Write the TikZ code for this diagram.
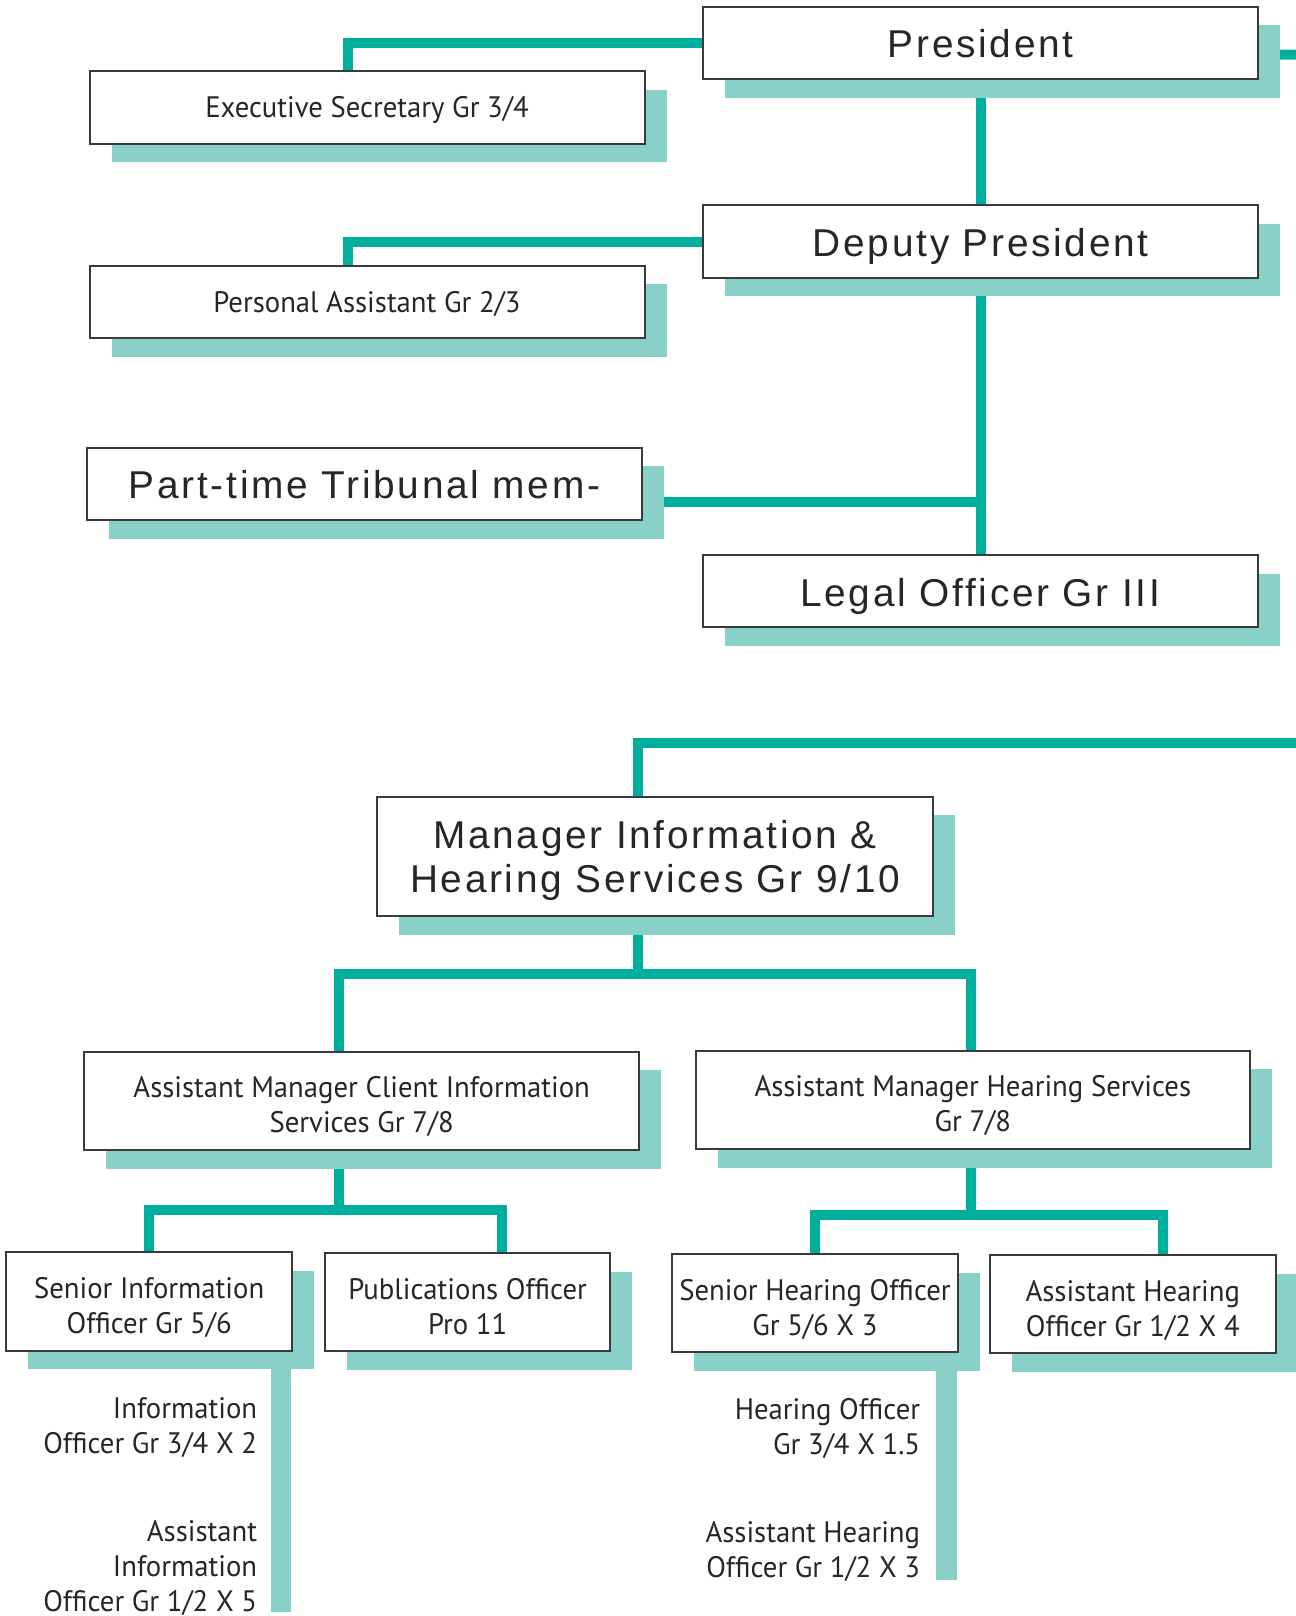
\documentclass[tikz,border=0pt]{standalone}
\usepackage{fontspec}
\setmainfont{PT Sans}
\newfontfamily\postfont[FakeStretch=0.97]{PT Sans}
\newfontfamily\headfont[LetterSpace=7]{Liberation Sans}
\usetikzlibrary{shadows,backgrounds,calc}

\definecolor{linkteal}{HTML}{00AE9D}
\definecolor{shadeteal}{HTML}{89D1C8}
\definecolor{edgegray}{HTML}{3A3A3A}
\definecolor{inkgray}{HTML}{262626}

\tikzset{
	post/.style={draw=edgegray, line width=1pt, fill=white, text=inkgray, align=center, inner sep=0pt,
		drop shadow={shadow xshift=11pt, shadow yshift=-9.25pt, fill=shadeteal, opacity=1}},
	headtext/.style={font=\headfont\fontsize{19.4}{21.65}\selectfont},
	bodytext/.style={font=\postfont\fontsize{14.8}{17.5}\selectfont},
	headline/.style={text height=15pt, text depth=0pt},
	headpair/.style={text depth=0pt},
	bodyline/.style={text height=11pt, text depth=0.5pt},
	bodypair/.style={text height=31.9pt, text depth=0pt},
	widesize/.style={minimum width=277.5pt, minimum height=36.2pt},
	mgrsize/.style={minimum width=277.6pt, minimum height=59.6pt},
	amsize/.style={minimum width=277.3pt, minimum height=49.1pt},
	unitsize/.style={minimum width=142.8pt, minimum height=49.1pt},
	link/.style={draw=linkteal, line width=5pt},
	sidenote/.style={anchor=north east, align=right, inner sep=0pt, text=inkgray, bodytext}
}

\begin{document}
\begin{tikzpicture}[x=0.5pt, y=-0.5pt]
			%%%%% START %%%%%
			\useasboundingbox (0, 0) rectangle (1295, 1616);
			
			\node[post, widesize, headtext, headline] (pres) at (980.75, 42.85) {President};
			\node[post, widesize, bodytext, bodyline] (exec) at (367, 107.5) {Executive Secretary Gr 3/4};
			\node[post, widesize, headtext, headline] (dep) at (980.75, 241.5) {Deputy President};
			\node[post, widesize, bodytext, bodyline] (pa) at (367, 301.9) {Personal Assistant Gr 2/3};
			\node[post, widesize, headtext, headline] (part) at (364.5, 483.9) {Part-time Tribunal mem-};
			\node[post, widesize, headtext, headline] (legal) at (980.25, 591.2) {Legal Officer Gr III};
			
			\node[post, mgrsize, headtext, headpair] (mgr) at (655, 856.4) {Manager Information \&\\Hearing Services Gr 9/10};
			\node[post, amsize, bodytext, bodypair] (amc) at (361.7, 1100.9) {Assistant Manager Client Information\\Services Gr 7/8};
			\node[post, amsize, bodytext, bodypair] (amh) at (972.8, 1100) {Assistant Manager Hearing Services\\Gr 7/8};
			
			\node[post, unitsize, bodytext, bodypair] (sio) at (149.15, 1301.5) {Senior Information\\Officer Gr 5/6};
			\node[post, unitsize, bodytext, bodypair] (pub) at (467.65, 1302.2) {Publications Officer\\Pro 11};
			\node[post, unitsize, bodytext, bodypair] (sho) at (814.95, 1303.2) {Senior Hearing Officer\\Gr 5/6 X 3};
			\node[post, unitsize, bodytext, bodypair] (aho) at (1132.8, 1304.2) {Assistant Hearing\\Officer Gr 1/2 X 4};
			
			\node[sidenote] (io) at (257.5, 1397) {Information\\Officer Gr 3/4 X 2};
			\node[sidenote] (aio) at (257.5, 1520) {Assistant\\Information\\Officer Gr 1/2 X 5};
			\node[sidenote] (ho) at (920.5, 1398) {Hearing Officer\\Gr 3/4 X 1.5};
			\node[sidenote] (aho2) at (920.5, 1521) {Assistant Hearing\\Officer Gr 1/2 X 3};
			
			\coordinate (topexit) at (1300, 54.7);
			\coordinate (midexit) at (1300, 742.7);
			\coordinate (mgrfork) at (637.7, 974);
			\coordinate (amcfork) at (338.5, 1210);
			\coordinate (amhfork) at (970.6, 1215);
			
			\begin{scope}[on background layer]
			\draw[link] (pres.west) -| ([xshift=-9.75pt]exec.north);
			\draw[link] (dep.west) -| ([xshift=-9.75pt]pa.north);
			\draw[link] ([yshift=-5.9pt]pres.east) -- (topexit);
			\draw[link] (pres.south) -- (dep.north);
			\draw[link] (dep.south) -- (dep.south |- legal.north);
			\draw[link] ([yshift=-8.9pt]part.east) -- ([yshift=-8.9pt]part.east -| dep.south);
			
			\draw[link] (midexit) -| (mgrfork |- mgr.north);
			\draw[link] (mgrfork |- mgr.south) -- (mgrfork);
			\draw[link] (amcfork |- amc.north) |- (mgrfork) -| (amhfork |- amh.north);
			
			\draw[link] (amcfork |- amc.south) -- (amcfork);
			\draw[link] (sio.north) |- (amcfork) -| ([xshift=17.2pt]pub.north);
			\draw[link] (amhfork |- amh.south) -- (amhfork);
			\draw[link] (sho.north) |- (amhfork) -| ([xshift=14.85pt]aho.north);
			
			\fill[shadeteal] ([xshift=-11pt]sio.south east) rectangle ([xshift=-0.8pt, yshift=-130pt]sio.south east);
			\fill[shadeteal] ([xshift=-11.2pt]sho.south east) rectangle ([xshift=-0.9pt, yshift=-113.2pt]sho.south east);
			\end{scope}
			%%%%% END %%%%%
\end{tikzpicture}
\end{document}
